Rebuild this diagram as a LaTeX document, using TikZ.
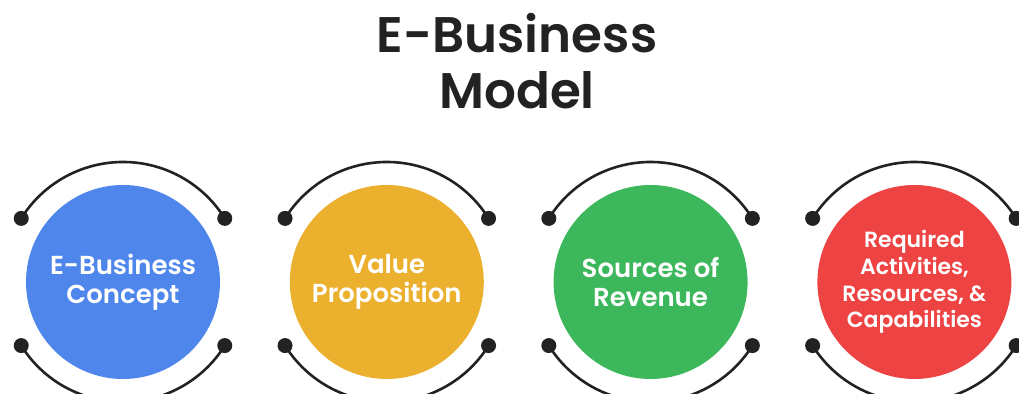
\documentclass[tikz,border=0pt]{standalone}
\usepackage{fontspec}
\setmainfont{Poppins}[BoldFont={Poppins SemiBold}]
\usepackage{xcolor}
\definecolor{cblue}{HTML}{4F86EC}
\definecolor{cyellow}{HTML}{EBB02D}
\definecolor{cgreen}{HTML}{3DB75C}
\definecolor{cred}{HTML}{EE4343}
\definecolor{ink}{HTML}{222222}
\usepackage{tikz}
\usetikzlibrary{positioning,calc}
\tikzstyle{blob} = [circle, minimum size=97pt, inner sep=0pt, text=white, align=center, font=\bfseries\fontsize{13}{14.5}\selectfont]
\tikzstyle{dot} = [circle, fill=ink, inner sep=0pt, minimum size=7.5pt]
\tikzstyle{ring} = [draw=ink, line width=1.3pt]
\tikzstyle{heading} = [anchor=base, text=ink, font=\bfseries\fontsize{25}{28}\selectfont]

\begin{document}
\begin{tikzpicture}[x=0.5pt, y=0.5pt, node distance=34.5pt]
    \useasboundingbox (0,0) rectangle (1019,394);

    % Title
    \node [heading] (title) at (517,341) {E-Business};
    \node [heading] (title2) at (517,285) {Model};

    % Nodes
    \node [blob, fill=cblue] (concept) at (123,112) {E-Business\\Concept};
    \node [blob, fill=cyellow, right=of concept] (value) {Value\\Proposition};
    \node [blob, fill=cgreen, right=of value] (revenue) {Sources of\\Revenue};
    \node [blob, fill=cred, right=of revenue, font=\bfseries\fontsize{11}{13.3}\selectfont] (capab) {Required\\Activities,\\Resources, \&\\Capabilities};

    % dots
    \node [dot] (concept-tl) at ($(concept)+(148:120)$) {};
    \node [dot] (concept-tr) at ($(concept)+(32:120)$) {};
    \node [dot] (concept-bl) at ($(concept)+(212:120)$) {};
    \node [dot] (concept-br) at ($(concept)+(328:120)$) {};
    \node [dot] (value-tl) at ($(value)+(148:120)$) {};
    \node [dot] (value-tr) at ($(value)+(32:120)$) {};
    \node [dot] (value-bl) at ($(value)+(212:120)$) {};
    \node [dot] (value-br) at ($(value)+(328:120)$) {};
    \node [dot] (revenue-tl) at ($(revenue)+(148:120)$) {};
    \node [dot] (revenue-tr) at ($(revenue)+(32:120)$) {};
    \node [dot] (revenue-bl) at ($(revenue)+(212:120)$) {};
    \node [dot] (revenue-br) at ($(revenue)+(328:120)$) {};
    \node [dot] (capab-tl) at ($(capab)+(148:120)$) {};
    \node [dot] (capab-tr) at ($(capab)+(32:120)$) {};
    \node [dot] (capab-bl) at ($(capab)+(212:120)$) {};
    \node [dot] (capab-br) at ($(capab)+(328:120)$) {};

    % arcs
    \draw [ring] (concept-tl.center) arc [start angle=148, end angle=32, radius=120];
    \draw [ring] (concept-bl.center) arc [start angle=212, end angle=328, radius=120];
    \draw [ring] (value-tl.center) arc [start angle=148, end angle=32, radius=120];
    \draw [ring] (value-bl.center) arc [start angle=212, end angle=328, radius=120];
    \draw [ring] (revenue-tl.center) arc [start angle=148, end angle=32, radius=120];
    \draw [ring] (revenue-bl.center) arc [start angle=212, end angle=328, radius=120];
    \draw [ring] (capab-tl.center) arc [start angle=148, end angle=32, radius=120];
    \draw [ring] (capab-bl.center) arc [start angle=212, end angle=328, radius=120];

\end{tikzpicture}
\end{document}
